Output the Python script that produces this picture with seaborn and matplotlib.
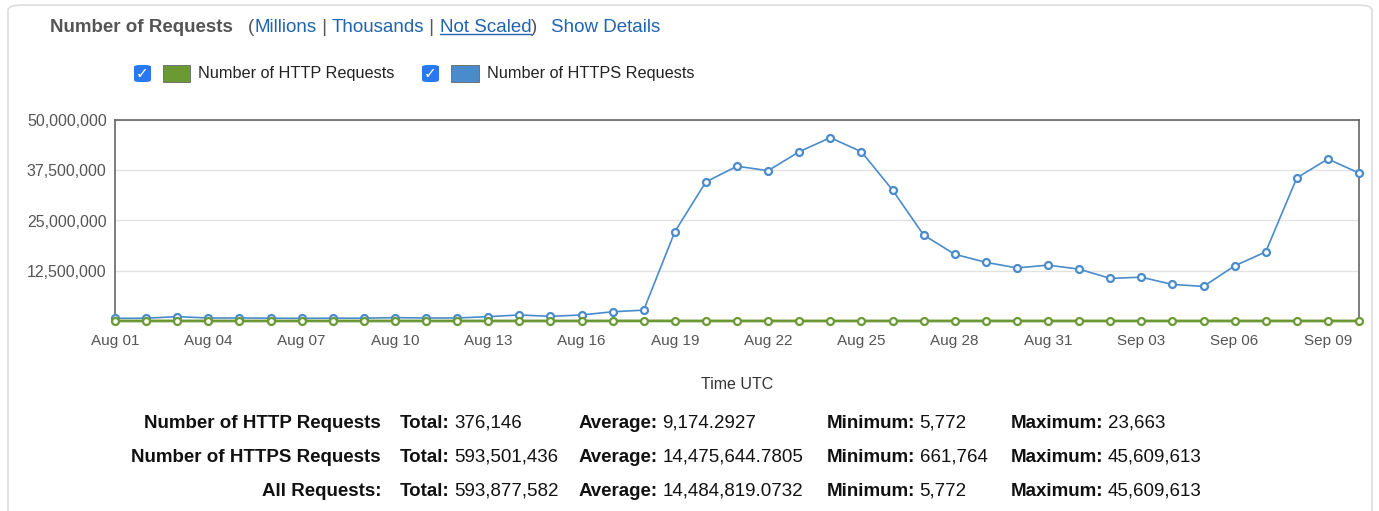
import pandas as pd
import matplotlib.pyplot as plt
import matplotlib.dates as mdates
import matplotlib.ticker as mticker
from matplotlib.patches import FancyBboxPatch, Rectangle
import seaborn as sns

# Daily request counts, Aug 01 - Sep 10
dates = pd.date_range('2023-08-01', '2023-09-10', freq='D')
https_requests = [661764, 700000, 1080000, 750000, 750000, 700000, 670000, 700000, 700000, 830000,
                  750000, 750000, 1080000, 1500000, 1160000, 1500000, 2300000, 2700000, 22200000, 34600000,
                  38500000, 37400000, 42100000, 45609613, 42100000, 32600000, 21400000, 16600000, 14600000, 13200000,
                  13900000, 12900000, 10600000, 10900000, 9100000, 8600000, 13700000, 17200000, 35600000, 40300000,
                  36800000]
http_requests = [8200, 7900, 9400, 8800, 8100, 7600, 6900, 8300, 9100, 8700,
                 8500, 7800, 9900, 12100, 10400, 11800, 15200, 23663, 12900, 10300,
                 9800, 9200, 8700, 9400, 9000, 8600, 8100, 7700, 7400, 7100,
                 7000, 6800, 6400, 6600, 6100, 5772, 6900, 7600, 9800, 10200,
                 9600]
y_ticks = [12500000, 25000000, 37500000, 50000000]

stat_rows = ['Number of HTTP Requests', 'Number of HTTPS Requests', 'All Requests:']
stat_total = ['376,146', '593,501,436', '593,877,582']
stat_avg = ['9,174.2927', '14,475,644.7805', '14,484,819.0732']
stat_min = ['5,772', '661,764', '5,772']
stat_max = ['23,663', '45,609,613', '45,609,613']

df = pd.DataFrame({'date': dates, 'HTTP': http_requests, 'HTTPS': https_requests})

sns.set_style('white')
plt.rcParams['font.family'] = ['Liberation Sans', 'DejaVu Sans']

green = '#6b9a35'
blue = '#4a8ccb'
link = '#1f64b0'

W, H = 1379, 511
fig = plt.figure(figsize=(W / 100, H / 100), dpi=100)
ax = fig.add_axes([115 / W, 1 - 321 / H, (1359 - 115) / W, (321 - 120) / H])

# outer panel border
fig.patches.append(FancyBboxPatch((8 / W, -0.05), 1364 / W, 1.04, boxstyle='round,pad=0,rounding_size=0.01',
                                  transform=fig.transFigure, facecolor='none', edgecolor='#dddddd', lw=1.2))

sns.lineplot(data=df, x='date', y='HTTPS', ax=ax, color=blue, lw=1.2, marker='o', markersize=5,
             markerfacecolor='white', markeredgecolor=blue, markeredgewidth=1.6, clip_on=False, zorder=3)
sns.lineplot(data=df, x='date', y='HTTP', ax=ax, color=green, lw=2, marker='o', markersize=5,
             markerfacecolor='white', markeredgecolor=green, markeredgewidth=1.6, clip_on=False, zorder=4)

ax.set_xlim(dates[0], dates[-1])
ax.set_ylim(0, 50000000)
ax.set_yticks(y_ticks)
ax.yaxis.set_major_formatter(mticker.FuncFormatter(lambda v, p: f'{int(v):,}'))
ax.set_xticks(dates[::3])
ax.xaxis.set_major_formatter(mdates.DateFormatter('%b %d'))
ax.tick_params(axis='both', length=0, labelcolor='#555555')
ax.tick_params(axis='x', pad=9, labelsize=11)
ax.tick_params(axis='y', pad=6, labelsize=11.5)
ax.grid(axis='y', color='#e2e2e2', lw=1)
ax.set_axisbelow(True)
for s in ['left', 'top', 'right']:
    ax.spines[s].set_color('#666666')
    ax.spines[s].set_linewidth(1.2)
ax.spines['bottom'].set_visible(False)
ax.set_ylabel('')
ax.set_xlabel('Time UTC', fontsize=11.5, color='#333333', labelpad=21)

# header line
hs = 13.5
t = fig.text(50 / W, 1 - 27 / H, 'Number of Requests', fontsize=hs, fontweight='bold', color='#555555', va='center')
t = ax.annotate('(', xy=(1, 0), xycoords=t, xytext=(11, 0), textcoords='offset points', va='bottom',
                fontsize=hs, color='#555555', annotation_clip=False)
for word, sep, und in [('Millions', ' | ', False), ('Thousands', ' | ', False), ('Not Scaled', ')', True)]:
    t = ax.annotate(word, xy=(1, 0), xycoords=t, va='bottom', fontsize=hs, color=link, annotation_clip=False)
    if und:
        fig.canvas.draw()
        bb = t.get_window_extent().transformed(fig.transFigure.inverted())
        fig.lines.append(plt.Line2D([bb.x0, bb.x1], [bb.y0 + 0.002, bb.y0 + 0.002], transform=fig.transFigure,
                                    color=link, lw=1))
    t = ax.annotate(sep, xy=(1, 0), xycoords=t, va='bottom', fontsize=hs,
                    color='#555555', annotation_clip=False)
ax.annotate('Show Details', xy=(1, 0), xycoords=t, xytext=(10, 0), textcoords='offset points', va='bottom',
            fontsize=hs, color=link, annotation_clip=False)

# legend row with checkboxes
for cx, px, pw, col, label in [(134, 163, 27, green, 'Number of HTTP Requests'),
                               (422, 451, 28, blue, 'Number of HTTPS Requests')]:
    fig.patches.append(FancyBboxPatch((cx / W, 1 - 82 / H), 17 / W, 17 / H, boxstyle='round,pad=0,rounding_size=0.004',
                                      transform=fig.transFigure, facecolor='#2a78f0', edgecolor='none'))
    fig.text((cx + 8.5) / W, 1 - 73.5 / H, '✓', color='white', fontsize=11, fontweight='bold',
             ha='center', va='center', family='DejaVu Sans')
    fig.patches.append(Rectangle((px / W, 1 - 82 / H), pw / W, 17 / H, transform=fig.transFigure,
                                 facecolor=col, edgecolor='#666666', lw=0.6))
    fig.text((px + pw + 8) / W, 1 - 73.5 / H, label, fontsize=11.7, color='#222222', va='center')

# summary table
ts = 13.5
for i, row in enumerate(stat_rows):
    y = 1 - (423 + 34 * i) / H
    fig.text(381 / W, y, row, fontsize=ts, fontweight='bold', ha='right', va='center', color='#111111')
    for x, key, val in [(400, 'Total:', stat_total[i]), (579, 'Average:', stat_avg[i]),
                        (827, 'Minimum:', stat_min[i]), (1011, 'Maximum:', stat_max[i])]:
        k = fig.text(x / W, y, key, fontsize=ts, fontweight='bold', va='center', color='#111111')
        ax.annotate(val, xy=(1, 0.5), xycoords=k, xytext=(3, 0), textcoords='offset points', va='center',
                    fontsize=ts, color='#111111', annotation_clip=False)

fig.savefig('out.png', dpi=100)
